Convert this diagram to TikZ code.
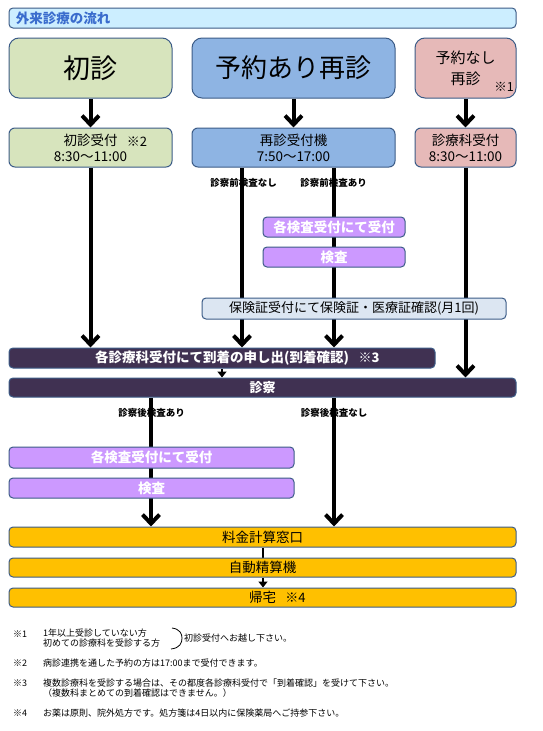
\documentclass[tikz,border=0pt]{standalone}
\usepackage{fontspec}
\setmainfont{Noto Sans CJK JP}
\usetikzlibrary{arrows.meta,backgrounds}
\definecolor{edge}{RGB}{60,92,135}
\definecolor{titlefill}{RGB}{204,238,255}
\definecolor{titleblue}{RGB}{58,108,205}
\definecolor{greenbox}{RGB}{215,228,189}
\definecolor{bluebox}{RGB}{142,180,227}
\definecolor{pinkbox}{RGB}{230,185,184}
\definecolor{violetbox}{RGB}{204,153,255}
\definecolor{hokenfill}{RGB}{220,230,242}
\definecolor{darkfill}{RGB}{64,49,82}
\definecolor{orangefill}{RGB}{255,192,0}
\begin{document}
\begin{tikzpicture}[x=1pt,y=-1pt,
  box/.style={draw=edge,line width=1pt,rounded corners=4pt,inner sep=0pt,align=center},
  topbox/.style={box,rounded corners=10pt,minimum height=60pt},
  midbox/.style={box,rounded corners=6pt,minimum height=39pt,font=\fontsize{13.5}{16}\selectfont},
  strip/.style={box,minimum height=20pt},
  vbox/.style={strip,fill=violetbox,text=white,font=\bfseries\fontsize{13.5}{14}\selectfont},
  dbar/.style={strip,fill=darkfill,text=white,font=\bfseries\fontsize{13.5}{14}\selectfont},
  obox/.style={strip,fill=orangefill,font=\fontsize{13.5}{14}\selectfont},
  bigarrow/.style={line width=4pt,-{Straight Barb[length=9pt,width=17pt]}},
  thinarrow/.style={line width=1.5pt,-{Triangle[length=6pt,width=9pt]}},
  thinline/.style={line width=1.5pt},
  lbl/.style={font=\bfseries\fontsize{9.5}{10}\selectfont,inner sep=0pt},
  refnote/.style={inner sep=0pt,font=\fontsize{13}{13}\selectfont},
  note/.style={font=\fontsize{9}{10}\selectfont,inner sep=0pt,anchor=west,align=left}
]
\begin{scope}[on background layer]
  \fill[white] (0,0) rectangle (543,731);
\end{scope}
\useasboundingbox (0,0) rectangle (543,731);

% title
\node[box,fill=titlefill,minimum width=507pt,minimum height=20pt,inner xsep=7pt,
      text width=493pt,align=left,text=titleblue,font=\bfseries\fontsize{13.5}{14}\selectfont]
      (title) at (262.5,18) {外来診療の流れ};

% top row
\node[topbox,fill=greenbox,minimum width=163pt,font=\fontsize{27}{30}\selectfont] (shoshin) at (90.5,68) {初診};
\node[topbox,fill=bluebox,minimum width=203pt,font=\fontsize{26}{30}\selectfont] (yoyaku) at (293.5,68) {予約あり再診};
\node[topbox,fill=pinkbox,minimum width=101pt,font=\fontsize{15}{21}\selectfont] (nashi) at (465.5,68) {予約なし\\再診};
\node[refnote,font=\fontsize{12.5}{12.5}\selectfont] (r1) at (504,87) {※1};

% second row
\node[midbox,fill=greenbox,minimum width=163pt] (shoshinuke) at (90.5,147.5) {初診受付\\8:30～11:00};
\node[refnote] (r2) at (137,141.5) {※2};
\node[midbox,fill=bluebox,minimum width=203pt] (saishin) at (293.5,147.5) {再診受付機\\7:50～17:00};
\node[midbox,fill=pinkbox,minimum width=101pt] (shinryo) at (465.5,147.5) {診療科受付\\8:30～11:00};

% pre-exam
\node[vbox,minimum width=142pt] (ku1) at (334,227) {各検査受付にて受付};
\node[vbox,minimum width=142pt] (k1) at (334,257) {検査};
\node[box,fill=hokenfill,minimum width=304pt,minimum height=21pt,font=\fontsize{13}{14}\selectfont] (hoken) at (354,308.5) {保険証受付にて保険証・医療証確認(月1回)};

% arrival / exam
\node[dbar,minimum width=426pt] (arrival) at (222,358) {各診療科受付にて到着の申し出(到着確認)};
\node[refnote,text=white,font=\bfseries\fontsize{13}{13}\selectfont] (r3) at (369,358) {※3};
\node[dbar,minimum width=507pt,minimum height=19pt,font=\bfseries\fontsize{13}{14}\selectfont] (shinsatsu) at (262.5,387.5) {診察};

% post-exam
\node[vbox,minimum width=285pt,minimum height=21pt] (ku2) at (151.5,457.5) {各検査受付にて受付};
\node[vbox,minimum width=285pt] (k2) at (151.5,488) {検査};

% payment
\node[obox,minimum width=507pt] (ryokin) at (262.5,537) {料金計算窓口};
\node[obox,minimum width=507pt,minimum height=19pt] (jido) at (262.5,567.5) {自動精算機};
\node[obox,minimum width=507pt,minimum height=19pt] (kitaku) at (262.5,597.5) {帰宅};
\node[refnote,font=\fontsize{13}{13}\selectfont] (r4) at (295.5,597.5) {※4};

% branch labels
\node[lbl] (l1) at (243.5,183) {診察前検査なし};
\node[lbl] (l2) at (333.5,183) {診察前検査あり};
\node[lbl] (l3) at (151.5,413) {診察後検査あり};
\node[lbl] (l4) at (334,413) {診察後検査なし};

% connectors
\coordinate (xa) at (242,0);
\coordinate (xb) at (334,0);
\coordinate (xc) at (151,0);
\coordinate (xd) at (222,0);
\coordinate (xe) at (263,0);
\begin{scope}[on background layer]
  \draw[bigarrow] (shoshin.south) -- (shoshinuke.north);
  \draw[bigarrow] (yoyaku.south) -- (saishin.north);
  \draw[bigarrow] (nashi.south) -- (shinryo.north);
  \draw[bigarrow] (shoshinuke.south) -- (shoshinuke.south |- arrival.north);
  \draw[bigarrow] (saishin.south -| xa) -- (arrival.north -| xa);
  \draw[bigarrow] (saishin.south -| xb) -- (arrival.north -| xb);
  \draw[bigarrow] (shinryo.south) -- (shinryo.south |- shinsatsu.north);
  \draw[thinarrow] (arrival.south -| xd) -- (shinsatsu.north -| xd);
  \draw[bigarrow] (shinsatsu.south -| xc) -- (ryokin.north -| xc);
  \draw[bigarrow] (shinsatsu.south -| xb) -- (ryokin.north -| xb);
  \draw[thinline] (ryokin.south -| xe) -- (jido.north -| xe);
  \draw[thinarrow] (jido.south -| xe) -- (kitaku.north -| xe);
\end{scope}

% notes
\node[note] (n1) at (13,634) {※1};
\node[note] (n1a) at (43,633) {1年以上受診していない方};
\node[note] (n1b) at (43,643) {初めての診療科を受診する方};
\draw[line width=0.8pt] (172,628) .. controls (180,629) and (182,634) .. (182,638)
      .. controls (182,643) and (180,648) .. (171,649);
\node[note] (n1c) at (184,638) {初診受付へお越し下さい。};
\node[note] (n2) at (13,663) {※2};
\node[note] (n2a) at (43,663) {病診連携を通した予約の方は17:00まで受付できます。};
\node[note] (n3) at (13,683) {※3};
\node[note] (n3a) at (43,683) {複数診療科を受診する場合は、その都度各診療科受付で「到着確認」を受けて下さい。};
\node[note] (n3b) at (43,693) {（複数科まとめての到着確認はできません。）};
\node[note] (n4) at (13,713) {※4};
\node[note] (n4a) at (43,713) {お薬は原則、院外処方です。処方箋は4日以内に保険薬局へご持参下さい。};
\end{tikzpicture}
\end{document}
